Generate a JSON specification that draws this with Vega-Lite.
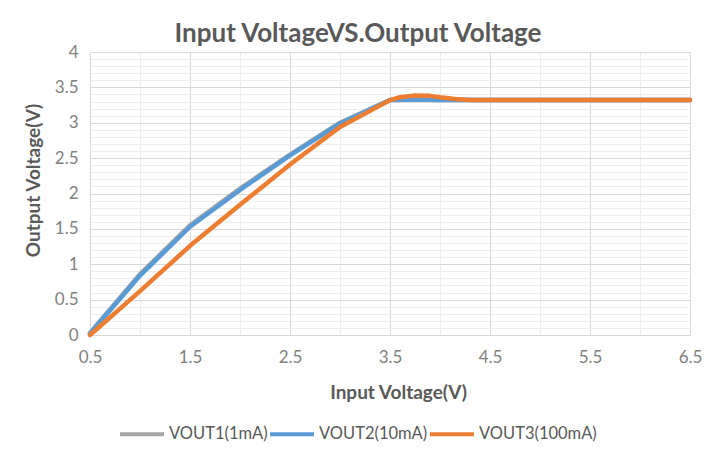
{
  "$schema": "https://vega.github.io/schema/vega-lite/v6.json",
  "autosize": {"type": "none"},
  "width": 600,
  "height": 283,
  "padding": {"left": 90, "top": 52, "right": 25, "bottom": 125},
  "background": "white",
  "config": {
    "font": "Lato",
    "view": {"stroke": null}
  },
  "title": {
    "text": "Input VoltageVS.Output Voltage",
    "font": "Lato",
    "fontSize": 26,
    "fontWeight": "bold",
    "color": "#595959",
    "anchor": "middle",
    "dx": -32,
    "dy": 34,
    "offset": 9,
    "baseline": "alphabetic"
  },
  "data": {
    "values": [
      {"x": 0.5, "y": 0.03, "s": "VOUT1(1mA)"},
      {"x": 1.0, "y": 0.86, "s": "VOUT1(1mA)"},
      {"x": 1.5, "y": 1.55, "s": "VOUT1(1mA)"},
      {"x": 2.0, "y": 2.07, "s": "VOUT1(1mA)"},
      {"x": 2.5, "y": 2.55, "s": "VOUT1(1mA)"},
      {"x": 3.0, "y": 3.0, "s": "VOUT1(1mA)"},
      {"x": 3.5, "y": 3.32, "s": "VOUT1(1mA)"},
      {"x": 4.0, "y": 3.32, "s": "VOUT1(1mA)"},
      {"x": 4.5, "y": 3.32, "s": "VOUT1(1mA)"},
      {"x": 5.0, "y": 3.32, "s": "VOUT1(1mA)"},
      {"x": 5.5, "y": 3.32, "s": "VOUT1(1mA)"},
      {"x": 6.0, "y": 3.32, "s": "VOUT1(1mA)"},
      {"x": 6.5, "y": 3.32, "s": "VOUT1(1mA)"},
      {"x": 0.5, "y": 0.02, "s": "VOUT2(10mA)"},
      {"x": 1.0, "y": 0.84, "s": "VOUT2(10mA)"},
      {"x": 1.5, "y": 1.53, "s": "VOUT2(10mA)"},
      {"x": 2.0, "y": 2.05, "s": "VOUT2(10mA)"},
      {"x": 2.5, "y": 2.54, "s": "VOUT2(10mA)"},
      {"x": 3.0, "y": 2.99, "s": "VOUT2(10mA)"},
      {"x": 3.5, "y": 3.32, "s": "VOUT2(10mA)"},
      {"x": 3.75, "y": 3.33, "s": "VOUT2(10mA)"},
      {"x": 4.0, "y": 3.32, "s": "VOUT2(10mA)"},
      {"x": 4.5, "y": 3.32, "s": "VOUT2(10mA)"},
      {"x": 5.0, "y": 3.32, "s": "VOUT2(10mA)"},
      {"x": 5.5, "y": 3.32, "s": "VOUT2(10mA)"},
      {"x": 6.0, "y": 3.32, "s": "VOUT2(10mA)"},
      {"x": 6.5, "y": 3.32, "s": "VOUT2(10mA)"},
      {"x": 0.5, "y": 0.0, "s": "VOUT3(100mA)"},
      {"x": 1.0, "y": 0.62, "s": "VOUT3(100mA)"},
      {"x": 1.5, "y": 1.26, "s": "VOUT3(100mA)"},
      {"x": 2.0, "y": 1.84, "s": "VOUT3(100mA)"},
      {"x": 2.5, "y": 2.41, "s": "VOUT3(100mA)"},
      {"x": 3.0, "y": 2.94, "s": "VOUT3(100mA)"},
      {"x": 3.5, "y": 3.32, "s": "VOUT3(100mA)"},
      {"x": 3.6, "y": 3.36, "s": "VOUT3(100mA)"},
      {"x": 3.75, "y": 3.385, "s": "VOUT3(100mA)"},
      {"x": 3.9, "y": 3.38, "s": "VOUT3(100mA)"},
      {"x": 4.0, "y": 3.36, "s": "VOUT3(100mA)"},
      {"x": 4.15, "y": 3.335, "s": "VOUT3(100mA)"},
      {"x": 4.3, "y": 3.32, "s": "VOUT3(100mA)"},
      {"x": 4.5, "y": 3.32, "s": "VOUT3(100mA)"},
      {"x": 5.0, "y": 3.32, "s": "VOUT3(100mA)"},
      {"x": 5.5, "y": 3.32, "s": "VOUT3(100mA)"},
      {"x": 6.0, "y": 3.32, "s": "VOUT3(100mA)"},
      {"x": 6.5, "y": 3.32, "s": "VOUT3(100mA)"}
    ]
  },
  "layer": [
    {
      "mark": {"type": "line", "opacity": 0},
      "encoding": {
        "x": {
          "field": "x", "type": "quantitative",
          "scale": {"domain": [0.5, 6.5], "nice": false, "zero": false},
          "axis": {"orient": "top", "values": [1, 2, 3, 4, 5, 6], "grid": true, "gridColor": "#ececec", "gridWidth": 1, "labels": false, "ticks": false, "domain": false, "title": null}
        },
        "y": {
          "field": "y", "type": "quantitative",
          "scale": {"domain": [0, 4], "nice": false, "zero": false},
          "axis": {"orient": "right", "values": [0.1,0.2,0.3,0.4,0.6,0.7,0.8,0.9,1.1,1.2,1.3,1.4,1.6,1.7,1.8,1.9,2.1,2.2,2.3,2.4,2.6,2.7,2.8,2.9,3.1,3.2,3.3,3.4,3.6,3.7,3.8,3.9], "grid": true, "gridColor": "#ededed", "gridWidth": 1, "labels": false, "ticks": false, "domain": false, "title": null}
        },
        "detail": {"field": "s", "type": "nominal"}
      }
    },
    {
      "mark": {"type": "line", "strokeWidth": 4.5, "strokeCap": "round", "strokeJoin": "round"},
      "encoding": {
        "x": {
          "field": "x", "type": "quantitative",
          "scale": {"domain": [0.5, 6.5], "nice": false, "zero": false},
          "axis": {
            "orient": "bottom",
            "values": [0.5, 1.5, 2.5, 3.5, 4.5, 5.5, 6.5],
            "format": ".1f",
            "grid": true, "gridColor": "#d9d9d9", "gridWidth": 1,
            "ticks": false, "domain": false,
            "labelFont": "Lato", "labelFontSize": 17, "labelColor": "#7f7f7f", "labelPadding": 14,
            "labelFlush": false,
            "title": "Input Voltage(V)",
            "titleFont": "Lato", "titleFontSize": 19, "titleFontWeight": "bold", "titleColor": "#595959",
            "titleX": 308, "titleY": 57, "titleBaseline": "middle", "titleAlign": "center"
          }
        },
        "y": {
          "field": "y", "type": "quantitative",
          "scale": {"domain": [0, 4], "nice": false, "zero": false},
          "axis": {
            "orient": "left",
            "values": [0, 0.5, 1, 1.5, 2, 2.5, 3, 3.5, 4],
            "format": "~g",
            "grid": true, "gridColor": "#d9d9d9", "gridWidth": 1,
            "ticks": false, "domain": false,
            "labelFont": "Lato", "labelFontSize": 17, "labelColor": "#7f7f7f", "labelPadding": 12,
            "labelFlush": false,
            "title": "Output Voltage(V)",
            "titleFont": "Lato", "titleFontSize": 19, "titleFontWeight": "bold", "titleColor": "#595959",
            "titleAngle": -90, "titleX": -57, "titleY": 128, "titleBaseline": "middle", "titleAlign": "center"
          }
        },
        "color": {
          "field": "s", "type": "nominal",
          "scale": {"domain": ["VOUT1(1mA)", "VOUT2(10mA)", "VOUT3(100mA)"], "range": ["#a5a5a5", "#5b9bd5", "#ed7d31"]},
          "legend": {
            "orient": "none", "direction": "horizontal",
            "legendX": 28, "legendY": 358,
            "title": null, "padding": 0,
            "symbolType": "stroke", "symbolSize": 1936, "symbolStrokeWidth": 4,
            "labelFont": "Lato", "labelFontSize": 16.5, "labelColor": "#595959",
            "labelOffset": 3, "columnPadding": -7, "labelLimit": 300
          }
        }
      }
    }
  ],
  "resolve": {"axis": {"x": "independent", "y": "independent"}}
}
